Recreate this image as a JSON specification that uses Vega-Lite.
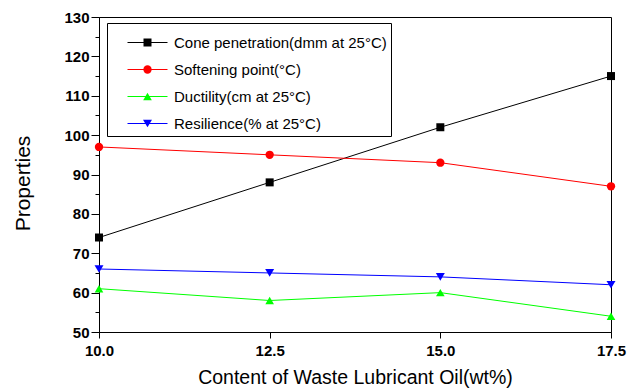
{
  "$schema": "https://vega.github.io/schema/vega-lite/v6.json",
  "width": 512,
  "height": 315,
  "autosize": {"type": "none"},
  "padding": {"left": 99, "top": 17, "right": 28, "bottom": 60},
  "background": "white",
  "config": {
    "view": {"stroke": "black", "strokeWidth": 1},
    "font": "Liberation Sans"
  },
  "data": {
    "values": [
      {"x": 10.0, "series": "Cone penetration(dmm at 25°C)", "value": 74},
      {"x": 12.5, "series": "Cone penetration(dmm at 25°C)", "value": 88},
      {"x": 15.0, "series": "Cone penetration(dmm at 25°C)", "value": 102},
      {"x": 17.5, "series": "Cone penetration(dmm at 25°C)", "value": 115},
      {"x": 10.0, "series": "Softening point(°C)", "value": 97},
      {"x": 12.5, "series": "Softening point(°C)", "value": 95},
      {"x": 15.0, "series": "Softening point(°C)", "value": 93},
      {"x": 17.5, "series": "Softening point(°C)", "value": 87},
      {"x": 10.0, "series": "Ductility(cm at 25°C)", "value": 61},
      {"x": 12.5, "series": "Ductility(cm at 25°C)", "value": 58},
      {"x": 15.0, "series": "Ductility(cm at 25°C)", "value": 60},
      {"x": 17.5, "series": "Ductility(cm at 25°C)", "value": 54},
      {"x": 10.0, "series": "Resilience(% at 25°C)", "value": 66},
      {"x": 12.5, "series": "Resilience(% at 25°C)", "value": 65},
      {"x": 15.0, "series": "Resilience(% at 25°C)", "value": 64},
      {"x": 17.5, "series": "Resilience(% at 25°C)", "value": 62}
    ]
  },
  "encoding": {
    "x": {
      "field": "x", "type": "quantitative",
      "scale": {"domain": [10, 17.5], "nice": false, "zero": false},
      "axis": {
        "values": [10, 12.5, 15, 17.5], "format": ".1f",
        "title": "Content of Waste Lubricant Oil(wt%)",
        "titleFont": "Liberation Sans", "titleFontSize": 19.5, "titleFontWeight": "normal", "titleColor": "black", "titlePadding": 10,
        "labelFont": "Liberation Sans", "labelFontSize": 15, "labelFontWeight": "bold", "labelColor": "black", "labelPadding": 5,
        "tickSize": 6, "tickColor": "black", "domainColor": "black", "grid": false, "labelFlush": false, "labelOverlap": false
      }
    },
    "y": {
      "field": "value", "type": "quantitative",
      "scale": {"domain": [50, 130], "nice": false, "zero": false},
      "axis": {
        "values": [50, 55, 60, 65, 70, 75, 80, 85, 90, 95, 100, 105, 110, 115, 120, 125, 130],
        "labelExpr": "datum.value % 10 === 0 ? datum.label : ''",
        "tickSize": {"condition": {"test": "datum.value % 10 !== 0", "value": 4}, "value": 8},
        "title": "Properties", "titleY": 166,
        "titleFont": "Liberation Sans", "titleFontSize": 21, "titleFontWeight": "normal", "titleColor": "black", "titlePadding": 30,
        "labelFont": "Liberation Sans", "labelFontSize": 15, "labelFontWeight": "bold", "labelColor": "black", "labelPadding": 2,
        "tickColor": "black", "domainColor": "black", "grid": false, "labelOverlap": false
      }
    }
  },
  "layer": [
    {
      "mark": {"type": "line", "strokeWidth": 1},
      "encoding": {
        "stroke": {
          "field": "series", "type": "nominal",
          "sort": ["Cone penetration(dmm at 25°C)", "Softening point(°C)", "Ductility(cm at 25°C)", "Resilience(% at 25°C)"],
          "scale": {"range": ["#000000", "#ff0000", "#00ff00", "#0000ff"]},
          "legend": {
            "orient": "none", "legendX": 8, "legendY": 6,
            "title": "\u2003\u2003\u2003\u2003\u2003\u2003\u2003\u2003\u2003\u2003\u2003\u2003\u2003\u2003\u2003\u2003\u2003\u2003\u2003\u2003\u2003\u2003\u2003\u2003\u2003\u2003\u2003\u2003\u2003\u2003\u2003\u2003\u2003\u2003\u2003\u2003\u2003\u2003\u2003\u2003\u2003\u2003\u2003\u2003\u2003\u2003\u2003\u2003\u2003",
            "titleOrient": "top", "titleFontSize": 6, "titlePadding": 2, "titleColor": "white", "titleLimit": 400,
            "symbolType": "M-4,0H4", "symbolSize": 100, "symbolStrokeWidth": 1, "symbolOffset": 29,
            "labelFont": "Liberation Sans", "labelFontSize": 15, "labelColor": "black", "labelOffset": 19, "labelLimit": 400,
            "rowPadding": 11, "padding": 4, "strokeColor": "black", "fillColor": "white"
          }
        }
      }
    },
    {
      "mark": {"type": "point", "filled": true, "opacity": 1},
      "encoding": {
        "color": {
          "field": "series", "type": "nominal",
          "scale": {
            "domain": ["Cone penetration(dmm at 25°C)", "Softening point(°C)", "Ductility(cm at 25°C)", "Resilience(% at 25°C)"],
            "range": ["#000000", "#ff0000", "#00ff00", "#0000ff"]
          },
          "legend": {
            "orient": "none", "legendX": 8, "legendY": 6, "title": " ", "titleOrient": "top", "titleFontSize": 6, "titlePadding": 2, "titleColor": "white",
            "symbolOffset": 29, "symbolOpacity": 1,
            "labelFont": "Liberation Sans", "labelFontSize": 15, "labelOpacity": 0, "labelOffset": 19, "labelLimit": 400,
            "rowPadding": 11, "padding": 4
          }
        },
        "shape": {
          "field": "series", "type": "nominal",
          "scale": {
            "domain": ["Cone penetration(dmm at 25°C)", "Softening point(°C)", "Ductility(cm at 25°C)", "Resilience(% at 25°C)"],
            "range": ["square", "circle", "triangle-up", "triangle-down"]
          },
          "legend": {
            "orient": "none", "legendX": 8, "legendY": 6, "title": " ", "titleOrient": "top", "titleFontSize": 6, "titlePadding": 2, "titleColor": "white",
            "symbolOffset": 29, "symbolOpacity": 1,
            "labelFont": "Liberation Sans", "labelFontSize": 15, "labelOpacity": 0, "labelOffset": 19, "labelLimit": 400,
            "rowPadding": 11, "padding": 4
          }
        },
        "size": {
          "field": "series", "type": "nominal",
          "scale": {
            "domain": ["Cone penetration(dmm at 25°C)", "Softening point(°C)", "Ductility(cm at 25°C)", "Resilience(% at 25°C)"],
            "range": [64, 80, 125, 125]
          },
          "legend": {
            "orient": "none", "legendX": 8, "legendY": 6, "title": " ", "titleOrient": "top", "titleFontSize": 6, "titlePadding": 2, "titleColor": "white",
            "symbolOffset": 29, "symbolOpacity": 1,
            "labelFont": "Liberation Sans", "labelFontSize": 15, "labelOpacity": 0, "labelOffset": 19, "labelLimit": 400,
            "rowPadding": 11, "padding": 4
          }
        }
      }
    }
  ]
}
